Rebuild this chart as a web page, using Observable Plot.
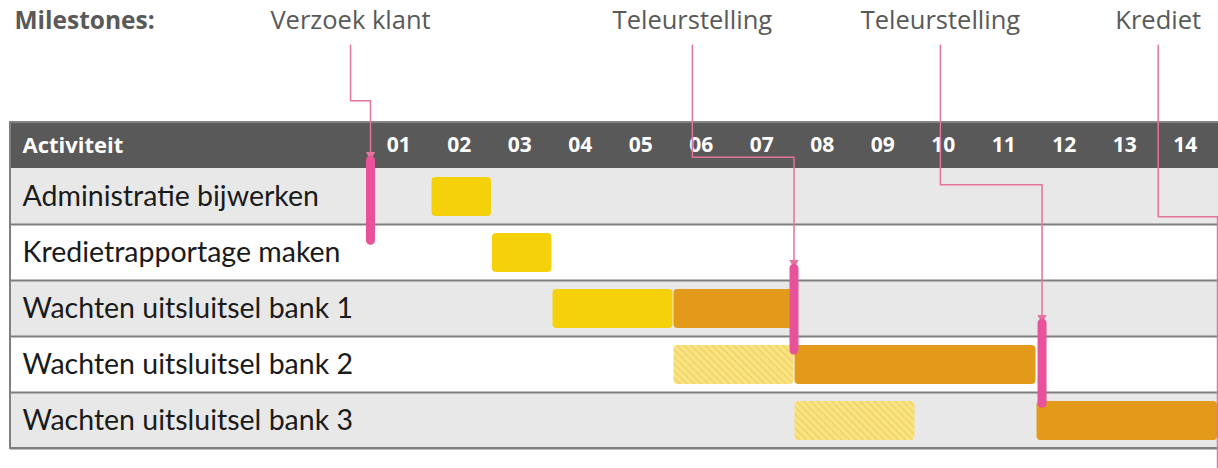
<!DOCTYPE html>
<html><head><meta charset="utf-8">
<script src="https://cdn.jsdelivr.net/npm/d3@7"></script>
<script src="https://cdn.jsdelivr.net/npm/@observablehq/plot@0.6"></script>
<style>html,body{margin:0;padding:0;background:#fff}svg{display:block}</style>
</head><body><div id="chart"></div>
<script>
// ---- data ----
const tasks = ["Administratie bijwerken","Kredietrapportage maken","Wachten uitsluitsel bank 1","Wachten uitsluitsel bank 2","Wachten uitsluitsel bank 3"];
const weeks = ["01","02","03","04","05","06","07","08","09","10","11","12","13","14"];
const barTask  = [0, 1, 2, 2, 3, 3, 4, 4];
const barStart = [2, 3, 4, 6, 6, 8, 8, 12];
const barEnd   = [3, 4, 6, 8, 8, 12, 10, 15];
const barKind  = ["gepland","gepland","gepland","vertraagd","voorlopig","vertraagd","voorlopig","vertraagd"];
const milestoneNames = ["Verzoek klant","Teleurstelling","Teleurstelling","Krediet"];
const milestoneWeek  = [1, 8, 12.1, 15];
// ---- layout (row / week units) ----
const labelX     = [0.67, 6.32, 10.42, 14.02];
const elbowRow   = [-1.21, -0.2, 0.29, 0.86];
const markTop    = [-0.14, 1.79, 2.77, 5.6];
const markBottom = [1.29, 3.25, 4.2, null];
const HEADER = 0.82, LABEL_ROW = -2.64, LINE_TOP = -2.2;

const bars = barTask.map((t, i) => ({row: t, start: barStart[i], end: barEnd[i], kind: barKind[i]}));
const rows = tasks.map((t, i) => ({t, i}));
const ms = milestoneNames.map((n, i) => ({name: n, week: milestoneWeek[i], lx: labelX[i], elbow: elbowRow[i], top: markTop[i], bottom: markBottom[i]}));
const path = ms.flatMap((m, k) => [
  {k, x: m.lx, y: LINE_TOP}, {k, x: m.lx, y: m.elbow},
  {k, x: m.week, y: m.elbow}, {k, x: m.week, y: m.top}
]);
const markers = ms.filter(m => m.bottom != null);
const PINK = "#e8529a", LINE = "#e4739e", GRAY = "#595959";
const OPEN = "'Open Sans', sans-serif";

const plot = Plot.plot({
  width: 1218, height: 468,
  marginLeft: 10, marginRight: 0, marginTop: 0, marginBottom: 0,
  x: {domain: [1, 15], range: [370, 1217], axis: null},
  y: {domain: [0, 5], range: [168, 448], axis: null},
  color: {domain: ["gepland","vertraagd","voorlopig"], range: ["#f5d10b","#e39a1b","url(#hatch)"]},
  style: {fontFamily: "Lato, sans-serif", background: "white", overflow: "visible"},
  marks: [
    Plot.rect(rows, {filter: d => d.i % 2 === 0, y1: d => d.i, y2: d => d.i + 1, fill: "#e8e8e8"}),
    Plot.rect([0], {y1: -HEADER, y2: 0, fill: GRAY}),
    Plot.ruleY(d3.range(1, 6), {stroke: "#7f7f7f", strokeWidth: 2}),
    Plot.rect([0], {y1: -HEADER, y2: 5, fill: "none", stroke: "#7f7f7f", strokeWidth: 2, insetRight: -3}),
    Plot.text(["Activiteit"], {frameAnchor: "left", y: -HEADER / 2, dx: 12, textAnchor: "start", fill: "white", fontWeight: "bold", fontSize: 22, fontFamily: OPEN}),
    Plot.text(weeks, {x: (d, i) => i + 1.5, y: -HEADER / 2, dx: -2, text: d => d, fill: "white", fontWeight: "bold", fontSize: 21, fontFamily: OPEN}),
    Plot.text(rows, {frameAnchor: "left", y: d => d.i + 0.5, dx: 12, text: "t", textAnchor: "start", fill: "#1a1a1a", fontSize: 28.5}),
    Plot.rect(bars, {x1: "start", x2: "end", y1: "row", y2: d => d.row + 1, insetTop: 9, insetBottom: 8, insetLeft: 1, fill: "kind", rx: 4}),
    Plot.line(path, {x: "x", y: "y", z: "k", stroke: LINE, strokeWidth: 1.5}),
    Plot.dot(markers, {x: "week", y: "top", dy: -6, symbol: "triangle", r: 3.5, rotate: 180, fill: LINE}),
    Plot.ruleX(markers, {x: "week", y1: "top", y2: "bottom", stroke: PINK, strokeWidth: 9, strokeLinecap: "round"}),
    Plot.text(ms, {x: "lx", y: LABEL_ROW, text: "name", fill: GRAY, fontSize: 25.5, fontFamily: OPEN}),
    Plot.text(["Milestones:"], {frameAnchor: "left", y: LABEL_ROW, dx: 4, textAnchor: "start", fill: GRAY, fontWeight: "bold", fontSize: 24.5, fontFamily: OPEN})
  ]
});

const defs = d3.create("svg:defs");
const pat = defs.append("pattern").attr("id", "hatch").attr("patternUnits", "userSpaceOnUse")
  .attr("width", 5).attr("height", 5).attr("patternTransform", "rotate(45)");
pat.append("rect").attr("width", 5).attr("height", 5).attr("fill", "#f9e385");
pat.append("rect").attr("width", 5).attr("height", 1.2).attr("fill", "#efcf58");
plot.insertBefore(defs.node(), plot.firstChild);
document.getElementById("chart").append(plot);
</script></body></html>
